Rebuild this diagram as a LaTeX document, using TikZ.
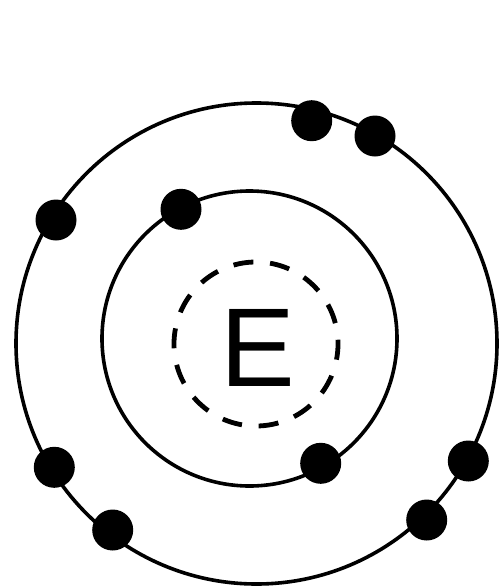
\documentclass[tikz,border=0pt]{standalone}
\usepackage{fontspec}
\setmainfont{Liberation Sans}
\begin{document}
\begin{tikzpicture}[x=1pt,y=-1pt,
  orbit/.style={draw=black,circle,line width=3.6pt,inner sep=0pt},
  nucleus/.style={draw=black,circle,line width=4.8pt,inner sep=0pt,
    dash pattern=on 20pt off 16.8pt, dash phase=15.7pt},
  electron/.style={circle,fill=black,minimum size=41pt,inner sep=0pt},
  label/.style={inner sep=0pt,font=\fontsize{112}{112}\selectfont}]
\useasboundingbox (0,0) rectangle (502,587);
\fill[white] (0,0) rectangle (502,587);
\node[orbit,minimum size=481pt] (outer) at (256.5,343.5) {};
\node[orbit,minimum size=295pt] (inner) at (249.5,338.5) {};
\node[nucleus,minimum size=164pt] (nuc) at (256,344) {};
\node[label] (E) at (257.5,348) {E};
% outer shell electrons
\node[electron] (o1) at (311.7,120.7) {};
\node[electron] (o2) at (375,136) {};
\node[electron] (o3) at (56,220) {};
\node[electron] (o4) at (54.3,467.3) {};
\node[electron] (o5) at (112.7,530) {};
\node[electron] (o6) at (468.3,461) {};
\node[electron] (o7) at (426.7,520) {};
% inner shell electrons
\node[electron] (i1) at (181,209.3) {};
\node[electron] (i2) at (320.7,463.3) {};
\end{tikzpicture}
\end{document}
